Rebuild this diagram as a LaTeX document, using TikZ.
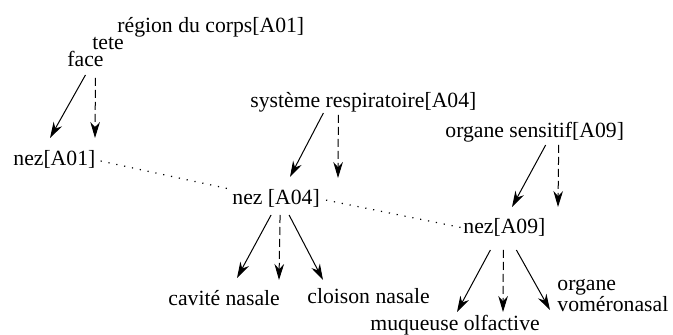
\documentclass[tikz,border=0pt]{standalone}
\usepackage{fontspec}
\setmainfont{Liberation Serif}
\usetikzlibrary{arrows.meta}

\begin{document}
\begin{tikzpicture}[x=0.5pt,y=-0.5pt]
		\tikzstyle{every node}=[font=\fontsize{10.85pt}{10.5pt}\selectfont, inner sep=0pt, anchor=base west]
		\tikzstyle{isa}=[line width=0.5pt, -{Stealth[length=8pt,width=4.8pt,inset=2.6pt]}]
		\tikzstyle{partof}=[isa, dash pattern=on 4pt off 2pt]
		\tikzstyle{same}=[line width=0.6pt, dash pattern=on 0.6pt off 3.4pt]
		
		\useasboundingbox (0,0) rectangle (673,335);
		
		% concepts
		\node (corps) at (117,33) {région du corps[A01]};
		\node (tete) at (92,50) {tete};
		\node (face) at (67,67) {face};
		\node (nez01) at (13,166) {nez[A01]};
		\node (respi) at (250,108) {système respiratoire[A04]};
		\node (nez04) at (232,205) {nez [A04]};
		\node (sensitif) at (445,138) {organe sensitif[A09]};
		\node (nez09) at (463,234) {nez[A09]};
		\node (cavite) at (168,306) {cavité nasale};
		\node (cloison) at (307,304) {cloison nasale};
		\node (muqueuse) at (370,331) {muqueuse olfactive};
		\node[align=left] (vomero) at (557,312) {organe\\voméronasal};
		
		% free arrow ends
		\coordinate (k1) at (50,138);
		\coordinate (k2) at (95,138);
		\coordinate (k3) at (290,177);
		\coordinate (k4) at (338,178);
		\coordinate (k5) at (237,278);
		\coordinate (k6) at (279,280);
		\coordinate (k7) at (323,280);
		\coordinate (k8) at (512,207);
		\coordinate (k9) at (558,207);
		\coordinate (k10) at (457,312);
		\coordinate (k11) at (503,312);
		\coordinate (k12) at (550,310);
		
		\draw[isa] ([shift={(0,8)}]face.base) -- (k1);
		\draw[partof] ([shift={(10,11)}]face.base) -- (k2);
		
		\draw[isa] ([shift={(-40,5)}]respi.base) -- (k3);
		\draw[partof] ([shift={(-25,7)}]respi.base) -- (k4);
		
		\draw[isa] ([shift={(-5,10)}]nez04.base) -- (k5);
		\draw[partof] ([shift={(4,10)}]nez04.base) -- (k6);
		\draw[isa] ([shift={(13,10)}]nez04.base) -- (k7);
		
		\draw[isa] ([shift={(11,7)}]sensitif.base) -- (k8);
		\draw[partof] ([shift={(24,7)}]sensitif.base) -- (k9);
		
		\draw[isa] ([shift={(-14,16)}]nez09.base) -- (k10);
		\draw[partof] ([shift={(-1,16)}]nez09.base) -- (k11);
		\draw[isa] ([shift={(12,16)}]nez09.base) -- (k12);
		
		% same nose
		\draw[same, shorten <=2.5pt, shorten >=2pt] (nez01.east) -- (nez04.north west);
		\draw[same, shorten <=3pt, shorten >=1pt] (nez04.east) -- (nez09.west);
		
	\end{tikzpicture}
\end{document}
